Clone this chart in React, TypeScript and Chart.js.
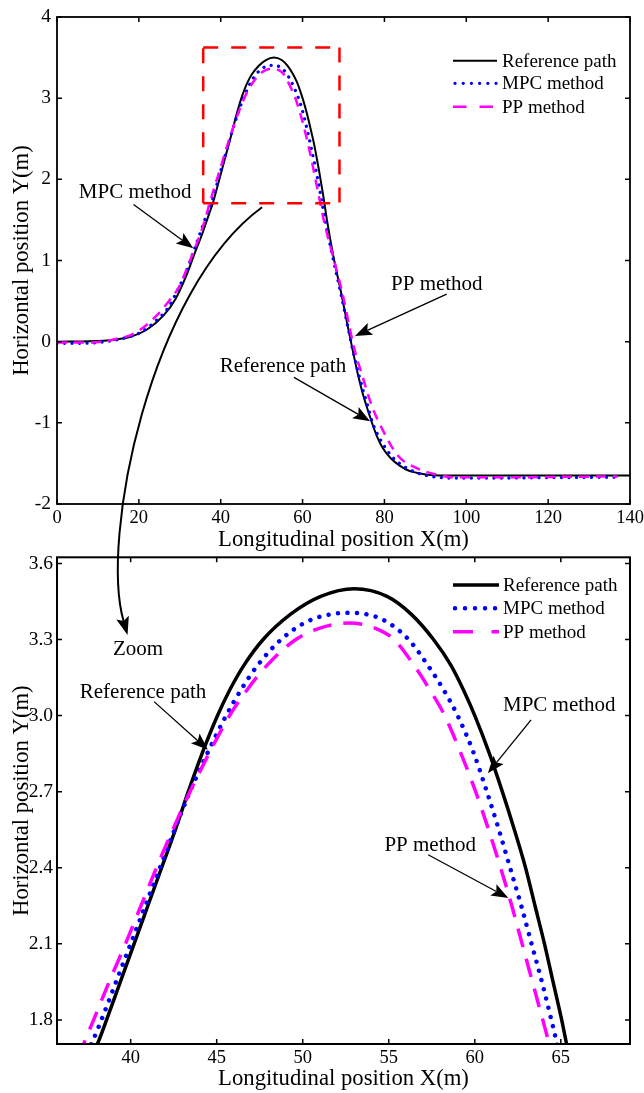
import React, { useEffect, useRef } from "react";
import { Chart, registerables } from "chart.js";

Chart.register(...registerables);

const FONT = '"Liberation Serif", "Times New Roman", Times, serif';

// ---------- data ----------
const refX = [0, 8, 14, 18, 22, 26, 29, 31.5, 33.5, 35.5, 37, 38.1, 38.6, 39.4, 40.2, 41.0, 41.8, 42.6, 43.35, 44.15, 45.05, 45.75, 46.6, 47.7, 49.3, 51.05, 53.0, 54.9, 56.3, 57.6, 58.6, 59.35, 60.0, 60.85, 61.6, 62.3, 62.95, 63.5, 64.05, 64.55, 65.05, 65.35, 65.95, 67.5, 69.6, 71.2, 72.3, 73.6, 74.6, 75.6, 76.9, 78.2, 79.7, 81.6, 83.8, 86.0, 87.9, 90.5, 93.6, 100, 140];
const refY = [0, 0.005, 0.025, 0.06, 0.15, 0.32, 0.53, 0.8, 1.07, 1.33, 1.55, 1.71, 1.8, 1.95, 2.1, 2.25, 2.4, 2.55, 2.7, 2.85, 3.0, 3.1, 3.2, 3.3, 3.4, 3.47, 3.5, 3.47, 3.4, 3.3, 3.2, 3.1, 3.0, 2.85, 2.7, 2.55, 2.4, 2.25, 2.1, 1.95, 1.8, 1.7, 1.5, 1.06, 0.56, 0.15, -0.12, -0.42, -0.62, -0.79, -0.99, -1.17, -1.32, -1.44, -1.53, -1.59, -1.615, -1.64, -1.65, -1.65, -1.65];

const mpcX = [0, 6, 11, 16, 20.3, 24.7, 27.2, 29.6, 31.4, 33.3, 35.2, 36.7, 37.75, 38.3, 39.15, 40.0, 40.85, 41.7, 42.55, 43.45, 44.45, 45.55, 46.4, 47.4, 48.75, 50.4, 52.7, 54.6, 56.15, 57.25, 58.2, 59.0, 59.95, 60.7, 61.4, 62.05, 62.7, 63.3, 63.9, 64.45, 64.8, 65.6, 67.3, 69.5, 71.2, 72.35, 73.8, 75.9, 77.1, 78.6, 80.4, 82.5, 85.2, 88.2, 91.5, 96, 108, 120, 137];
const mpcY = [-0.02, -0.02, -0.005, 0.04, 0.11, 0.28, 0.42, 0.65, 0.84, 1.1, 1.37, 1.58, 1.71, 1.8, 1.95, 2.1, 2.25, 2.4, 2.55, 2.7, 2.85, 3.0, 3.1, 3.2, 3.3, 3.375, 3.405, 3.38, 3.3, 3.2, 3.1, 3.0, 2.85, 2.7, 2.55, 2.4, 2.25, 2.1, 1.95, 1.8, 1.7, 1.47, 1.06, 0.56, 0.15, -0.12, -0.42, -0.79, -1.0, -1.17, -1.32, -1.45, -1.55, -1.62, -1.66, -1.68, -1.68, -1.675, -1.67];

const ppX = [0, 6, 11, 15, 18, 21.1, 24.5, 27.5, 30.0, 32.1, 34.9, 36.4, 37.3, 37.85, 38.75, 39.7, 40.6, 41.5, 42.45, 43.45, 44.55, 45.75, 46.75, 47.95, 49.6, 51.0, 52.7, 54.2, 55.3, 56.45, 57.4, 58.25, 59.2, 60.05, 60.8, 61.5, 62.15, 62.75, 63.35, 63.95, 64.35, 65.3, 67.4, 69.9, 71.6, 72.8, 74.6, 76.9, 79.4, 83.2, 87.5, 93, 97, 112, 125, 137];
const ppY = [-0.01, -0.01, 0, 0.04, 0.08, 0.175, 0.33, 0.51, 0.69, 0.95, 1.31, 1.54, 1.71, 1.8, 1.95, 2.1, 2.25, 2.4, 2.55, 2.7, 2.85, 3.0, 3.1, 3.2, 3.3, 3.345, 3.365, 3.345, 3.3, 3.2, 3.1, 3.0, 2.85, 2.7, 2.55, 2.4, 2.25, 2.1, 1.95, 1.8, 1.7, 1.47, 1.06, 0.56, 0.15, -0.12, -0.42, -0.79, -1.07, -1.4, -1.55, -1.64, -1.67, -1.67, -1.665, -1.66];

const seriesNames = ["Reference path", "MPC method", "PP method"];

// axis ranges / ticks
const topXRange = [0, 140];
const topXStep = 20;
const topYRange = [-2, 4];
const topYStep = 1;
// zoom window (also the red dashed box of the upper chart)
const zoomBox = { x0: 35.72, x1: 69.02, y0: 1.705, y1: 3.624 };
const botXStep = 5;
const botYStep = 0.3;

const xTitle = "Longitudinal position X(m)";
const yTitle = "Horizontal position Y(m)";

type Note = { text: string; tx: number; ty: number; fx?: number; fy?: number; hx?: number; hy?: number };
const topNotes: Note[] = [
  { text: "MPC method", tx: 19.1, ty: 1.84, fx: 18.7, fy: 1.69, hx: 33.3, hy: 1.15 },
  { text: "PP method", tx: 92.8, ty: 0.71, fx: 95.2, fy: 0.585, hx: 72.8, hy: 0.07 },
  { text: "Reference path", tx: 55.2, ty: -0.3, fx: 57.9, fy: -0.44, hx: 76.5, hy: -0.98 },
];
const botNotes: Note[] = [
  { text: "Zoom", tx: 40.43, ty: 3.262 },
  { text: "Reference path", tx: 40.72, ty: 3.09, fx: 41.36, fy: 3.055, hx: 44.49, hy: 2.865 },
  { text: "MPC method", tx: 64.91, ty: 3.039, fx: 63.27, fy: 2.983, hx: 60.76, hy: 2.773 },
  { text: "PP method", tx: 57.41, ty: 2.487, fx: 57.29, fy: 2.451, hx: 61.95, hy: 2.281 },
];
// curved "Zoom" arrow: start/controls in upper-chart data, end in lower-chart data
const zoomCurve = { sx: 50.1, sy: 1.656, c1x: 22.7, c1y: 0.647, c2x: 10.5, c2y: -2.43, ex: 39.82, ey: 3.318 };

const pts = (xs: number[], ys: number[]) => xs.map((x, i) => ({ x, y: ys[i] }));

function drawArrowHead(ctx: CanvasRenderingContext2D, fx: number, fy: number, tx: number, ty: number, len: number, hw: number) {
  const dx = tx - fx, dy = ty - fy;
  const d = Math.hypot(dx, dy) || 1;
  const ux = dx / d, uy = dy / d;
  const bx = tx - ux * len, by = ty - uy * len;
  const nx = tx - ux * len * 0.8, ny = ty - uy * len * 0.8;
  ctx.beginPath();
  ctx.moveTo(tx, ty);
  ctx.lineTo(bx - uy * hw, by + ux * hw);
  ctx.lineTo(nx, ny);
  ctx.lineTo(bx + uy * hw, by - ux * hw);
  ctx.closePath();
  ctx.fill();
  return { nx, ny };
}

function drawArrow(ctx: CanvasRenderingContext2D, x0: number, y0: number, x1: number, y1: number, lw: number, len: number, hw: number) {
  const { nx, ny } = drawArrowHead(ctx, x0, y0, x1, y1, len, hw);
  ctx.lineWidth = lw;
  ctx.beginPath();
  ctx.moveTo(x0, y0);
  ctx.lineTo(nx, ny);
  ctx.stroke();
}

type Spec = {
  xMin: number; xMax: number; xStep: number;
  yMin: number; yMax: number; yStep: number;
  yFmt: (v: number) => string;
  padTop: number; xAxisH: number; yLabelPad: number;
  refW: number; mpcW: number; mpcGap: number; ppW: number; ppDash: number[];
  frameW: number;
  notes: Note[];
  legend: { x0: number; x1: number; tx: number; rows: number[]; mpcGap: number; ppDash: number[] };
  box: boolean;
};

function makeConfig(s: Spec): any {
  const framePlugin = {
    id: "frameAndNotes",
    afterDraw(chart: any) {
      const ctx: CanvasRenderingContext2D = chart.ctx;
      const a = chart.chartArea;
      const xs = chart.scales.x, ys = chart.scales.y;
      ctx.save();
      // red zoom box
      if (s.box) {
        ctx.strokeStyle = "#ff0000";
        ctx.lineWidth = 2.5;
        ctx.setLineDash([15, 13]);
        const bx0 = xs.getPixelForValue(zoomBox.x0), bx1 = xs.getPixelForValue(zoomBox.x1);
        const by0 = ys.getPixelForValue(zoomBox.y1), by1 = ys.getPixelForValue(zoomBox.y0);
        ctx.beginPath();
        ctx.moveTo(bx0, by1); ctx.lineTo(bx0, by0); ctx.stroke();
        ctx.beginPath();
        ctx.moveTo(bx0, by0); ctx.lineTo(bx1, by0); ctx.stroke();
        ctx.beginPath();
        ctx.moveTo(bx1, by0); ctx.lineTo(bx1, by1); ctx.stroke();
        ctx.beginPath();
        ctx.moveTo(bx0, by1); ctx.lineTo(bx1, by1); ctx.stroke();
        ctx.setLineDash([]);
      }
      // frame
      ctx.strokeStyle = "#000";
      ctx.lineWidth = s.frameW;
      ctx.strokeRect(a.left, a.top, a.right - a.left, a.bottom - a.top);
      // inward ticks on all four sides
      const tl = 5;
      ctx.lineWidth = 1.5;
      xs.ticks.forEach((t: any) => {
        const p = xs.getPixelForValue(t.value);
        ctx.beginPath();
        ctx.moveTo(p, a.bottom); ctx.lineTo(p, a.bottom - tl);
        ctx.moveTo(p, a.top); ctx.lineTo(p, a.top + tl);
        ctx.stroke();
      });
      ys.ticks.forEach((t: any) => {
        const p = ys.getPixelForValue(t.value);
        ctx.beginPath();
        ctx.moveTo(a.left, p); ctx.lineTo(a.left + tl, p);
        ctx.moveTo(a.right, p); ctx.lineTo(a.right - tl, p);
        ctx.stroke();
      });
      // legend
      const L = s.legend;
      const lx0 = a.right - L.x0, lx1 = a.right - L.x1, ltx = a.right - L.tx;
      const rows = L.rows.map((r) => a.top + r);
      ctx.lineCap = "butt";
      ctx.strokeStyle = "#000"; ctx.lineWidth = s.refW;
      ctx.beginPath(); ctx.moveTo(lx0, rows[0]); ctx.lineTo(lx1, rows[0]); ctx.stroke();
      ctx.strokeStyle = "#0000ff"; ctx.lineWidth = s.mpcW; ctx.lineCap = "round";
      ctx.setLineDash([0.01, L.mpcGap]);
      ctx.beginPath(); ctx.moveTo(lx0 + 2, rows[1]); ctx.lineTo(lx1, rows[1]); ctx.stroke();
      ctx.lineCap = "butt";
      ctx.strokeStyle = "#ff00ff"; ctx.lineWidth = s.ppW;
      ctx.setLineDash(L.ppDash);
      ctx.beginPath(); ctx.moveTo(lx0, rows[2]); ctx.lineTo(lx1, rows[2]); ctx.stroke();
      ctx.setLineDash([]);
      ctx.fillStyle = "#000";
      ctx.font = `19px ${FONT}`;
      ctx.textAlign = "left";
      ctx.textBaseline = "middle";
      seriesNames.forEach((n, i) => ctx.fillText(n, ltx, rows[i] + 1));
      // annotations
      ctx.font = `21px ${FONT}`;
      ctx.textAlign = "center";
      ctx.strokeStyle = "#000";
      ctx.fillStyle = "#000";
      s.notes.forEach((n) => {
        ctx.fillText(n.text, xs.getPixelForValue(n.tx), ys.getPixelForValue(n.ty));
        if (n.fx !== undefined) {
          drawArrow(ctx, xs.getPixelForValue(n.fx), ys.getPixelForValue(n.fy!), xs.getPixelForValue(n.hx!), ys.getPixelForValue(n.hy!), 1.3, 17, 6.5);
        }
      });
      ctx.restore();
    },
  };

  const xTickFont = { family: FONT, size: 18.5 };
  const yTickFont = { family: FONT, size: 19.5 };
  const titleFont = { family: FONT, size: 22.7 };
  return {
    type: "line",
    data: {
      datasets: [
        { label: seriesNames[0], data: pts(refX, refY), borderColor: "#000000", borderWidth: s.refW, pointRadius: 0, cubicInterpolationMode: "monotone", clip: 0, order: 3, fill: false },
        { label: seriesNames[1], data: pts(mpcX, mpcY), borderColor: "#0000ff", borderWidth: s.mpcW, borderDash: [0.01, s.mpcGap], borderCapStyle: "round", pointRadius: 0, cubicInterpolationMode: "monotone", clip: 0, order: 2, fill: false },
        { label: seriesNames[2], data: pts(ppX, ppY), borderColor: "#ff00ff", borderWidth: s.ppW, borderDash: s.ppDash, borderCapStyle: "butt", pointRadius: 0, cubicInterpolationMode: "monotone", clip: 0, order: 1, fill: false },
      ],
    },
    options: {
      animation: false,
      responsive: false,
      maintainAspectRatio: false,
      devicePixelRatio: 1,
      events: [],
      layout: { padding: { top: s.padTop, right: 14, left: 0, bottom: 0 } },
      plugins: { legend: { display: false }, tooltip: { enabled: false }, title: { display: false } },
      scales: {
        x: {
          type: "linear", min: s.xMin, max: s.xMax,
          ticks: { stepSize: s.xStep, includeBounds: false, font: xTickFont, color: "#000", padding: 3, maxRotation: 0, autoSkip: false },
          grid: { display: false, drawTicks: false },
          border: { display: false },
          title: { display: true, text: xTitle, font: titleFont, color: "#000", padding: { top: 0, bottom: 0 } },
          afterFit: (sc: any) => { sc.height = s.xAxisH; sc.paddingLeft = 0; sc.paddingRight = 0; },
        },
        y: {
          type: "linear", min: s.yMin, max: s.yMax,
          ticks: { stepSize: s.yStep, includeBounds: false, font: yTickFont, color: "#000", padding: s.yLabelPad, autoSkip: false, callback: (v: any) => s.yFmt(Number(v)) },
          grid: { display: false, drawTicks: false },
          border: { display: false },
          title: { display: true, text: yTitle, font: titleFont, color: "#000", padding: { top: 8, bottom: 0 } },
          afterFit: (sc: any) => { sc.width = 57; sc.paddingTop = 0; sc.paddingBottom = 0; },
        },
      },
    },
    plugins: [framePlugin],
  };
}

const TOP_H = 554;
const BOT_H = 1093 - TOP_H;

export default function App() {
  const topRef = useRef<HTMLCanvasElement>(null);
  const botRef = useRef<HTMLCanvasElement>(null);
  const ovRef = useRef<HTMLCanvasElement>(null);

  useEffect(() => {
    const topChart = new Chart(topRef.current!, makeConfig({
      xMin: topXRange[0], xMax: topXRange[1], xStep: topXStep,
      yMin: topYRange[0], yMax: topYRange[1], yStep: topYStep,
      yFmt: (v) => String(Math.round(v)),
      padTop: 17, xAxisH: TOP_H - 504, yLabelPad: 6,
      refW: 2, mpcW: 3.3, mpcGap: 7.5, ppW: 2.5, ppDash: [10, 7],
      frameW: 1.8,
      notes: topNotes,
      legend: { x0: 177, x1: 133, tx: 128, rows: [43.7, 66.3, 89.7], mpcGap: 8.2, ppDash: [13.5, 13] },
      box: true,
    }));
    const botChart = new Chart(botRef.current!, makeConfig({
      xMin: zoomBox.x0, xMax: zoomBox.x1, xStep: botXStep,
      yMin: zoomBox.y0, yMax: zoomBox.y1, yStep: botYStep,
      yFmt: (v) => v.toFixed(1),
      padTop: 3.3, xAxisH: BOT_H - 490, yLabelPad: 4,
      refW: 3.5, mpcW: 4.5, mpcGap: 9.5, ppW: 3.5, ppDash: [19, 12],
      frameW: 2,
      notes: botNotes,
      legend: { x0: 177, x1: 131, tx: 127, rows: [27.7, 51, 74.4], mpcGap: 10, ppDash: [20, 18.5] },
      box: false,
    }));

    // overlay: curved arrow spanning both charts
    const ov = ovRef.current!;
    const ctx = ov.getContext("2d")!;
    ctx.clearRect(0, 0, ov.width, ov.height);
    const tx = topChart.scales.x, ty = topChart.scales.y;
    const bx = botChart.scales.x, by = botChart.scales.y;
    const sx = tx.getPixelForValue(zoomCurve.sx), sy = ty.getPixelForValue(zoomCurve.sy);
    const c1x = tx.getPixelForValue(zoomCurve.c1x), c1y = ty.getPixelForValue(zoomCurve.c1y);
    const c2x = tx.getPixelForValue(zoomCurve.c2x), c2y = ty.getPixelForValue(zoomCurve.c2y);
    const ex = bx.getPixelForValue(zoomCurve.ex), ey = by.getPixelForValue(zoomCurve.ey) + TOP_H;
    ctx.fillStyle = "#000";
    ctx.strokeStyle = "#000";
    const head = drawArrowHead(ctx, c2x, c2y, ex, ey, 18, 6.5);
    ctx.lineWidth = 2;
    ctx.beginPath();
    ctx.moveTo(sx, sy);
    ctx.bezierCurveTo(c1x, c1y, c2x, c2y, head.nx, head.ny);
    ctx.stroke();

    return () => {
      topChart.destroy();
      botChart.destroy();
    };
  }, []);

  return (
    <div style={{ position: "absolute", left: 0, top: 0, width: 644, height: 1093, background: "#fff", overflow: "hidden" }}>
      <canvas ref={topRef} width={644} height={TOP_H} style={{ position: "absolute", left: 0, top: 0, width: 644, height: TOP_H }} />
      <canvas ref={botRef} width={644} height={BOT_H} style={{ position: "absolute", left: 0, top: TOP_H, width: 644, height: BOT_H }} />
      <canvas ref={ovRef} width={644} height={1093} style={{ position: "absolute", left: 0, top: 0, width: 644, height: 1093, pointerEvents: "none" }} />
    </div>
  );
}
